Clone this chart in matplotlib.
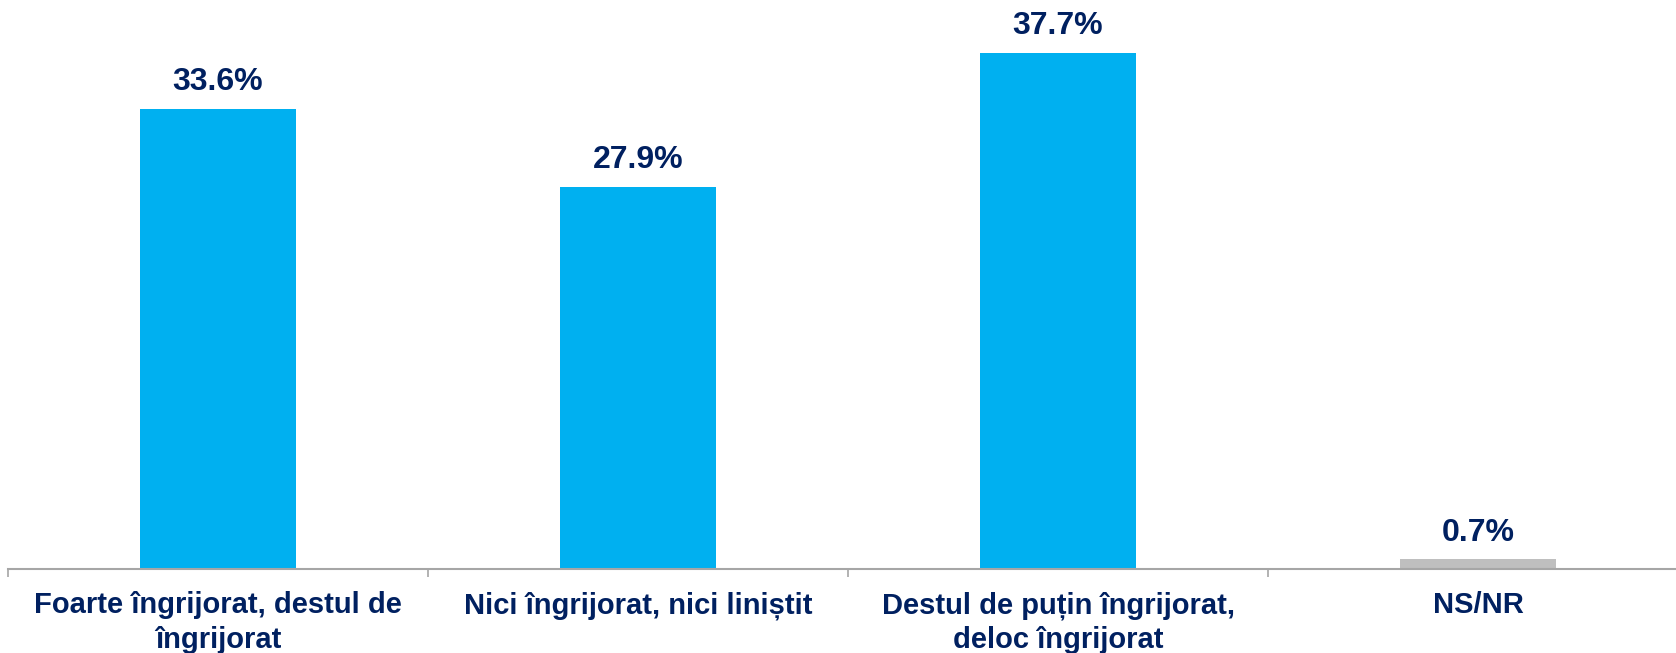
import matplotlib.pyplot as plt

categories = ["Foarte îngrijorat, destul de\nîngrijorat",
              "Nici îngrijorat, nici liniștit",
              "Destul de puțin îngrijorat,\ndeloc îngrijorat",
              "NS/NR"]
values = [33.6, 27.9, 37.7, 0.7]
bar_colors = ["#00B0F0", "#00B0F0", "#00B0F0", "#BFBFBF"]

navy = "#002060"
plt.rcParams['font.family'] = ['Liberation Sans', 'DejaVu Sans']

fig = plt.figure(figsize=(16.76, 6.53), dpi=100)
ax = fig.add_axes([8 / 1676, 84 / 653, 1680 / 1676, 569 / 653])

x = range(len(values))
ax.bar(x, values, width=0.37, color=bar_colors)

# value labels above the bars
for i, v in enumerate(values):
    ax.annotate(f"{v:.1f}%", (i, v), xytext=(0, 8.5), textcoords='offset points',
                ha='center', va='bottom', fontsize=23, fontweight='bold', color=navy)

ax.set_xlim(-0.5, len(values) - 0.5)
ax.set_ylim(0, 41.56)

for side in ['top', 'right', 'left']:
    ax.spines[side].set_visible(False)
ax.spines['bottom'].set_color('#A6A6A6')
ax.spines['bottom'].set_linewidth(1.5)
ax.set_yticks([])

# category labels at the centres, boundary tick marks as minor ticks
ax.set_xticks(list(x))
ax.set_xticklabels(categories, fontsize=21, fontweight='bold', color=navy, linespacing=1.3)
ax.tick_params(axis='x', which='major', length=0, pad=16)
ax.set_xticks([i - 0.5 for i in range(len(values) + 1)], minor=True)
ax.tick_params(axis='x', which='minor', length=6, width=1.2, color='#A6A6A6', direction='out')

plt.savefig('out.png', dpi=100)
